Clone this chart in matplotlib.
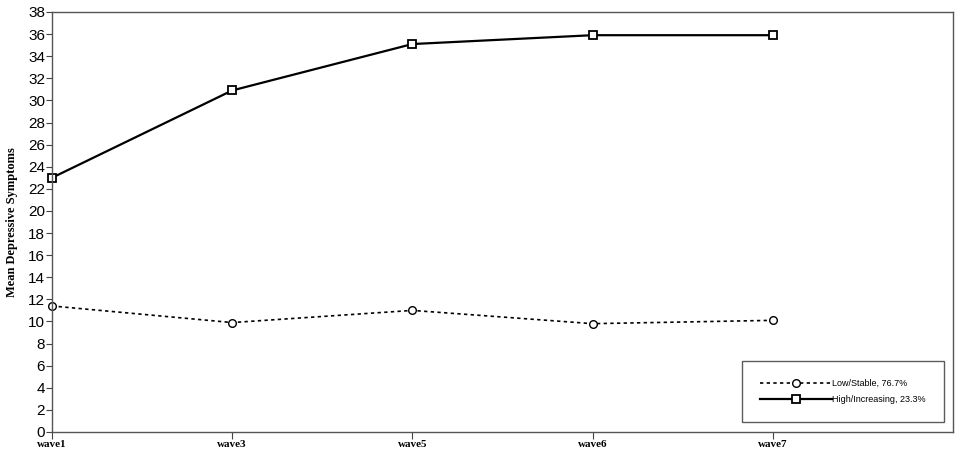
import numpy as np
import matplotlib
matplotlib.use("Agg")
import matplotlib.pyplot as plt

waves = ["wave1", "wave3", "wave5", "wave6", "wave7"]
low_stable = [11.4, 9.9, 11.0, 9.8, 10.1]
high_increasing = [23.0, 30.9, 35.1, 35.9, 35.9]

fig = plt.figure(figsize=(9.57, 4.54), dpi=100)
ax = fig.add_axes([0.0543, 0.0485, 0.9415, 0.9251])

x = np.arange(len(waves))
ax.plot(x, low_stable, color="black", linestyle=(0, (2, 2)), linewidth=1.2,
        marker="o", markersize=5.5, markerfacecolor="white", markeredgecolor="black",
        markeredgewidth=1.0, label="Low/Stable, 76.7%", clip_on=False)
ax.plot(x, high_increasing, color="black", linestyle="-", linewidth=1.6,
        marker="s", markersize=5.5, markerfacecolor="white", markeredgecolor="black",
        markeredgewidth=1.3, label="High/Increasing, 23.3%", clip_on=False)

ax.set_xlim(0, 5.0)
ax.set_ylim(0, 38)
ax.set_yticks(range(0, 39, 2))
ax.set_xticks(x)
ax.set_xticklabels(waves, family="Liberation Serif", fontweight="bold", fontsize=8)
for lab in ax.get_yticklabels():
    lab.set_family("Liberation Sans")
    lab.set_fontsize(11)
ax.tick_params(axis="y", length=4, width=0.8, colors="#444444", labelcolor="black", pad=1)
ax.tick_params(axis="x", length=5, width=0.8, colors="#444444", labelcolor="black", pad=1)
for s in ax.spines.values():
    s.set_color("#555555")
    s.set_linewidth(1.0)

ax.set_ylabel("Mean Depressive Symptoms", family="Liberation Serif",
              fontweight="bold", fontsize=9, labelpad=7)

leg = ax.legend(loc="lower right", bbox_to_anchor=(0.990, 0.024), frameon=True,
                fancybox=False, edgecolor="#333333", prop={"family": "Liberation Sans", "size": 6.5},
                handlelength=8, borderpad=2.0, labelspacing=0.75, handletextpad=0.0,
                borderaxespad=0)
leg.get_frame().set_linewidth(1.0)

fig.savefig("out.png", dpi=100)
